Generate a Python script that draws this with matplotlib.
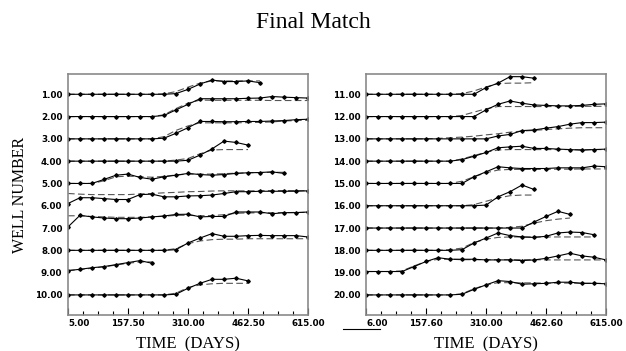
import matplotlib
matplotlib.use('Agg')
import matplotlib.pyplot as plt
from matplotlib.lines import Line2D

# sample times (days), one marker per entry
DAYS = [5.0, 35.5, 66.0, 96.5, 127.0, 157.5, 188.0, 218.5, 249.0, 279.5, 310.0,
        340.5, 371.0, 401.5, 432.0, 462.5, 493.0, 523.5, 554.0, 584.5, 615.0]

# offsets above each well's baseline (in well-number units)
obs_w1 = [0, 0, 0, 0, 0, 0, 0, 0, 0, 0.03, 0.22, 0.46, 0.64, 0.57, 0.57, 0.6, 0.52]
sim_w1 = [0, 0, 0, 0, 0, 0, 0, 0, 0.02, 0.12, 0.32, 0.5, 0.6, 0.6, 0.6, 0.6, 0.6]
obs_w2 = [0, 0, 0, 0, 0, 0, 0, 0, 0.05, 0.3, 0.55, 0.8, 0.8, 0.8, 0.8, 0.82, 0.83, 0.9, 0.87, 0.85, 0.83]
sim_w2 = [0, 0, 0, 0, 0, 0, 0, 0, 0.08, 0.36, 0.6, 0.74, 0.73, 0.73, 0.73, 0.73, 0.73, 0.72, 0.72, 0.72, 0.72]
obs_w3 = [0, 0, 0, 0, 0, 0, 0, 0, 0.03, 0.25, 0.5, 0.78, 0.78, 0.77, 0.77, 0.78, 0.78, 0.8, 0.82, 0.86, 0.88]
sim_w3 = [0, 0, 0, 0, 0, 0, 0, 0, 0.1, 0.38, 0.58, 0.72, 0.72, 0.72, 0.72, 0.73, 0.74, 0.76, 0.8, 0.82, 0.84]
obs_w4 = [0, 0, 0, 0, 0, 0, 0, 0, 0, 0, 0.04, 0.27, 0.55, 0.9, 0.84, 0.72]
sim_w4 = [0, 0, 0, 0, 0, 0, 0, 0, 0, 0.05, 0.12, 0.33, 0.5, 0.52, 0.52, 0.52]
obs_w5 = [0, 0, 0, 0.18, 0.37, 0.42, 0.27, 0.19, 0.3, 0.37, 0.45, 0.4, 0.37, 0.4, 0.45, 0.48, 0.49, 0.52, 0.45]
sim_w5 = [0, 0, 0, 0.12, 0.3, 0.33, 0.3, 0.28, 0.32, 0.38, 0.42, 0.42, 0.42, 0.44, 0.46, 0.48, 0.49, 0.5, 0.5]
obs_w6 = [0.1, 0.36, 0.36, 0.32, 0.28, 0.28, 0.5, 0.52, 0.4, 0.4, 0.44, 0.45, 0.48, 0.55, 0.63, 0.63, 0.65, 0.65, 0.65, 0.65, 0.67]
sim_w6 = [0.55, 0.52, 0.5, 0.5, 0.5, 0.5, 0.53, 0.55, 0.58, 0.6, 0.63, 0.64, 0.66, 0.67, 0.67, 0.67, 0.67, 0.68, 0.68, 0.68, 0.68]
obs_w7 = [0.05, 0.57, 0.5, 0.45, 0.42, 0.42, 0.45, 0.5, 0.54, 0.61, 0.62, 0.5, 0.52, 0.52, 0.72, 0.72, 0.72, 0.64, 0.69, 0.69, 0.72]
sim_w7 = [0.55, 0.55, 0.52, 0.5, 0.48, 0.48, 0.48, 0.5, 0.53, 0.57, 0.57, 0.55, 0.56, 0.6, 0.66, 0.68, 0.68, 0.69, 0.69, 0.7, 0.7]
obs_w8 = [0, 0, 0, 0, 0, 0, 0, 0, 0, 0.03, 0.33, 0.55, 0.75, 0.63, 0.63, 0.66, 0.67, 0.66, 0.66, 0.66, 0.6]
sim_w8 = [0, 0, 0, 0, 0, 0, 0, 0, 0, 0.08, 0.3, 0.42, 0.48, 0.5, 0.5, 0.52, 0.52, 0.52, 0.52, 0.52, 0.52]
obs_w9 = [0.09, 0.15, 0.22, 0.27, 0.36, 0.45, 0.54, 0.42]
sim_w9 = [0.1, 0.13, 0.2, 0.26, 0.34, 0.42, 0.48, 0.48]
obs_w10 = [0, 0, 0, 0, 0, 0, 0, 0, 0, 0.03, 0.3, 0.52, 0.7, 0.7, 0.75, 0.63]
sim_w10 = [0, 0, 0, 0, 0, 0, 0, 0, 0, 0.08, 0.33, 0.45, 0.5, 0.52, 0.52, 0.52]

obs_w11 = [0, 0, 0, 0, 0, 0, 0, 0, 0, 0, 0.3, 0.5, 0.79, 0.79, 0.72]
sim_w11 = [0, 0, 0, 0, 0, 0, 0, 0, 0.03, 0.15, 0.33, 0.48, 0.5, 0.5, 0.52]
obs_w12 = [0, 0, 0, 0, 0, 0, 0, 0, 0, 0, 0.3, 0.55, 0.7, 0.6, 0.52, 0.5, 0.48, 0.48, 0.5, 0.55, 0.57]
sim_w12 = [0, 0, 0, 0, 0, 0, 0, 0, 0.05, 0.2, 0.35, 0.45, 0.45, 0.45, 0.45, 0.45, 0.45, 0.45, 0.46, 0.46, 0.46]
obs_w13 = [0, 0, 0, 0, 0, 0, 0, 0, 0, 0, 0, 0.13, 0.2, 0.37, 0.4, 0.48, 0.55, 0.66, 0.73, 0.73, 0.75]
sim_w13 = [0, 0, 0, 0, 0, 0, 0.02, 0.05, 0.08, 0.12, 0.18, 0.23, 0.3, 0.35, 0.38, 0.42, 0.45, 0.48, 0.5, 0.5, 0.5]
obs_w14 = [0, 0, 0, 0, 0, 0, 0, 0, 0.07, 0.22, 0.39, 0.6, 0.64, 0.67, 0.57, 0.57, 0.54, 0.52, 0.49, 0.52, 0.54]
sim_w14 = [0, 0, 0, 0, 0, 0, 0, 0, 0.1, 0.25, 0.4, 0.5, 0.52, 0.52, 0.52, 0.52, 0.52, 0.52, 0.52, 0.52, 0.52]
obs_w15 = [0, 0, 0, 0, 0, 0, 0, 0, 0, 0.3, 0.52, 0.75, 0.7, 0.67, 0.67, 0.67, 0.7, 0.7, 0.7, 0.78, 0.75]
sim_w15 = [0, 0, 0, 0, 0, 0, 0, 0, 0.1, 0.3, 0.48, 0.6, 0.63, 0.63, 0.63, 0.63, 0.64, 0.64, 0.65, 0.65, 0.65]
obs_w16 = [0, 0, 0, 0, 0, 0, 0, 0, 0, 0, 0.03, 0.4, 0.63, 0.93, 0.73]
sim_w16 = [0, 0, 0, 0, 0, 0, 0, 0, 0, 0.05, 0.2, 0.35, 0.45, 0.48, 0.48]
obs_w17 = [0, 0, 0, 0, 0, 0, 0, 0, 0, 0, 0, 0, 0, 0, 0.27, 0.52, 0.75, 0.61]
sim_w17 = [0, 0, 0, 0, 0, 0, 0, 0, 0, 0, 0, 0, 0.03, 0.08, 0.22, 0.33, 0.4, 0.45]
obs_w18 = [0, 0, 0, 0, 0, 0, 0, 0, 0.03, 0.33, 0.55, 0.78, 0.66, 0.6, 0.58, 0.63, 0.78, 0.82, 0.8, 0.7]
sim_w18 = [0, 0, 0, 0, 0, 0, 0, 0.03, 0.1, 0.35, 0.5, 0.58, 0.6, 0.6, 0.6, 0.6, 0.6, 0.6, 0.6, 0.6]
obs_w19 = [0.05, 0.05, 0.05, 0.05, 0.27, 0.5, 0.67, 0.6, 0.6, 0.6, 0.57, 0.57, 0.57, 0.54, 0.57, 0.64, 0.75, 0.87, 0.75, 0.69, 0.57]
sim_w19 = [0.05, 0.05, 0.05, 0.08, 0.3, 0.5, 0.6, 0.6, 0.58, 0.58, 0.58, 0.58, 0.58, 0.58, 0.58, 0.57, 0.57, 0.57, 0.57, 0.57, 0.57]
obs_w20 = [0, 0, 0, 0, 0, 0, 0, 0, 0.03, 0.25, 0.45, 0.64, 0.6, 0.48, 0.5, 0.52, 0.57, 0.57, 0.52, 0.52, 0.5]
sim_w20 = [0, 0, 0, 0, 0, 0, 0, 0, 0.05, 0.28, 0.45, 0.55, 0.55, 0.54, 0.54, 0.53, 0.53, 0.53, 0.52, 0.52, 0.52]

LEFT_WELLS = [(1, obs_w1, sim_w1), (2, obs_w2, sim_w2), (3, obs_w3, sim_w3),
              (4, obs_w4, sim_w4), (5, obs_w5, sim_w5), (6, obs_w6, sim_w6),
              (7, obs_w7, sim_w7), (8, obs_w8, sim_w8), (9, obs_w9, sim_w9),
              (10, obs_w10, sim_w10)]
RIGHT_WELLS = [(11, obs_w11, sim_w11), (12, obs_w12, sim_w12), (13, obs_w13, sim_w13),
               (14, obs_w14, sim_w14), (15, obs_w15, sim_w15), (16, obs_w16, sim_w16),
               (17, obs_w17, sim_w17), (18, obs_w18, sim_w18), (19, obs_w19, sim_w19),
               (20, obs_w20, sim_w20)]

XTICKS = [5.0, 157.5, 310.0, 462.5, 615.0]
LEFT_XLABELS = ["5.00", "157.50", "310.00", "462.50", "615.00"]
RIGHT_XLABELS = ["6.00", "157.60", "310.00", "462.60", "615.00"]
MINOR_TICKS = [43.125, 81.25, 119.375, 195.625, 233.75, 271.875,
               348.125, 386.25, 424.375, 500.625, 538.75, 576.875]

SERIF = "Liberation Serif"
TICKFONT = dict(family="DejaVu Sans", size=6.3, weight="bold")
SPINE = "#8a8a8a"

fig = plt.figure(figsize=(6.26, 3.51), dpi=100)
fig.patch.set_facecolor("white")


def draw_panel(ax, wells, first, xlabels):
    for well, obs, sim in wells:
        ax.plot(DAYS[:len(sim)], [well - v for v in sim], color="#555555",
                linewidth=0.8, dashes=(6, 3))
        ax.plot(DAYS[:len(obs)], [well - v for v in obs], color="black",
                linewidth=0.8, marker="D", markersize=1.8)
    ax.set_xlim(5, 615)
    ax.set_ylim(first + 9.9, first - 0.91)
    ax.set_yticks(range(first, first + 10))
    ax.set_yticklabels([f"{v:.2f}" for v in range(first, first + 10)], **TICKFONT)
    ax.tick_params(axis="y", length=0, pad=4)
    ax.set_xticks(XTICKS)
    ax.set_xticklabels(xlabels, **TICKFONT)
    ax.set_xticks(MINOR_TICKS, minor=True)
    ax.tick_params(axis="x", which="major", direction="in", length=5, width=0.8, pad=3)
    ax.tick_params(axis="x", which="minor", direction="in", length=3, width=0.8)
    ax.get_xticklabels()[0].set_ha("left")
    for spine in ax.spines.values():
        spine.set_edgecolor(SPINE)
        spine.set_linewidth(1.2)
    ax.set_xlabel("TIME  (DAYS)", family=SERIF, fontsize=12, labelpad=6)


ax1 = fig.add_axes([0.1086, 0.1026, 0.3834, 0.6866])
draw_panel(ax1, LEFT_WELLS, 1, LEFT_XLABELS)
ax1.set_ylabel("WELL NUMBER", family=SERIF, fontsize=11.5, labelpad=5)

ax2 = fig.add_axes([0.5847, 0.1026, 0.3834, 0.6866])
draw_panel(ax2, RIGHT_WELLS, 11, RIGHT_XLABELS)

fig.text(0.5, 0.935, "Final Match", family=SERIF, fontsize=17,
         ha="center", va="center")

# short stray stroke under the right panel, as in the scanned original
fig.add_artist(Line2D([343 / 626, 380 / 626], [1 - 329 / 351, 1 - 329 / 351],
                      color="black", linewidth=0.8))

fig.savefig("out.png", dpi=100)
